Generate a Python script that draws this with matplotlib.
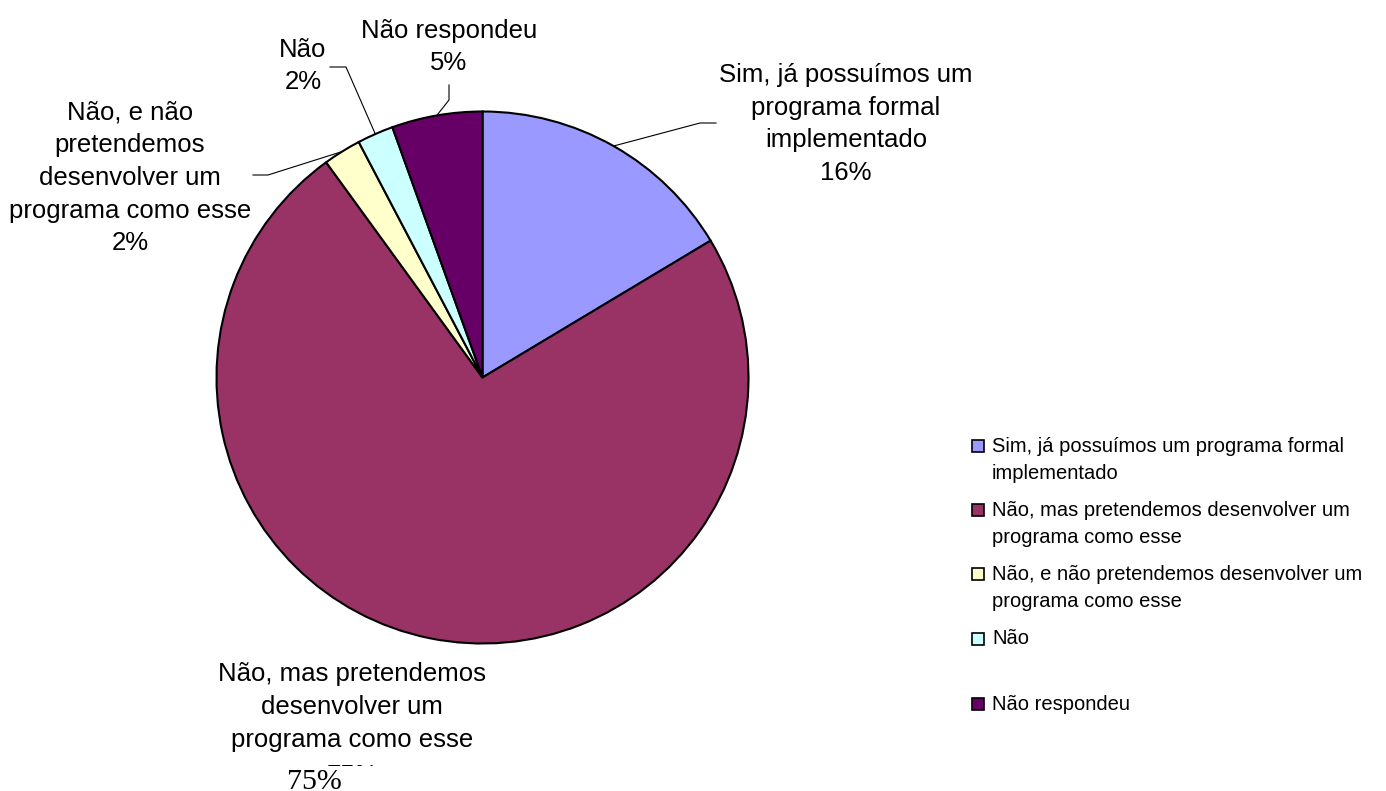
import numpy as np
import matplotlib
matplotlib.use('Agg')
import matplotlib.pyplot as plt
from matplotlib.patches import Rectangle

# survey answers (share of respondents, %)
categorias = ['Sim, já possuímos um programa formal implementado',
              'Não, mas pretendemos desenvolver um programa como esse',
              'Não, e não pretendemos desenvolver um programa como esse',
              'Não',
              'Não respondeu']
valores = [16.4, 73.6, 2.3, 2.2, 5.5]
rotulos_pct = ['16%', '75%', '2%', '2%', '5%']
rotulos_fatia = ['Sim, já possuímos um\nprograma formal\nimplementado',
                 'Não, mas pretendemos\ndesenvolver um\nprograma como esse',
                 'Não, e não\npretendemos\ndesenvolver um\nprograma como esse',
                 'Não',
                 'Não respondeu']
rotulos_legenda = ['Sim, já possuímos um programa formal\nimplementado',
                   'Não, mas pretendemos desenvolver um\nprograma como esse',
                   'Não, e não pretendemos desenvolver um\nprograma como esse',
                   'Não',
                   'Não respondeu']
cores = ['#9999FF', '#993366', '#FFFFCC', '#CCFFFF', '#660066']

W, H = 1386, 791
SANS = 'Liberation Sans'

def py(y):
    return H - y

fig = plt.figure(figsize=(W / 100, H / 100), dpi=100)
ax = fig.add_axes([0, 0, 1, 1])

cx, cy, r = 482.5, py(377.5), 266
wedges, _ = ax.pie(valores, colors=cores, startangle=90, counterclock=False,
                   center=(cx, cy), radius=r,
                   wedgeprops=dict(edgecolor='black', linewidth=1.5))
ax.set_xlim(0, W)
ax.set_ylim(0, H)
ax.set_aspect('equal')
ax.axis('off')

# label positions (pixel coords, top-left origin) and leader elbows
pos_texto = [(846, 124), None, (130, 178), (303, 66), (449, 47)]
cotovelos = [[(700, 123), (716, 123)],
             None,
             [(268, 175), (253, 175)],
             [(346, 67), (330, 67)],
             [(449, 100), (449, 85)]]

fs = 18.5
ls = 1.46
for i, w in enumerate(wedges):
    if pos_texto[i] is None:
        continue
    x, y = pos_texto[i]
    ax.text(x, py(y), rotulos_fatia[i] + '\n' + rotulos_pct[i], ha='center', va='center',
            fontsize=fs, family=SANS, linespacing=ls)
    ang = np.deg2rad((w.theta1 + w.theta2) / 2)
    xs = [cx + r * np.cos(ang)] + [p[0] for p in cotovelos[i]]
    ys = [cy + r * np.sin(ang)] + [py(p[1]) for p in cotovelos[i]]
    ax.plot(xs, ys, color='black', lw=0.8)

# bottom label for the big slice (its percentage gets clipped in the original)
ax.text(352, py(707), rotulos_fatia[1], ha='center', va='center',
        fontsize=fs, family=SANS, linespacing=ls)
ax.text(352, py(783), rotulos_pct[1], ha='center', va='baseline',
        fontsize=fs, family=SANS, zorder=5)
ax.add_patch(Rectangle((320, 0), 90, py(765.5), facecolor='white', edgecolor='none', zorder=6))
ax.text(314, py(789), rotulos_pct[1], ha='center', va='baseline',
        fontsize=21.5, family='Liberation Serif', zorder=7)

# legend drawn by hand
leg_y = [446, 510, 574, 639, 704]
for i in range(len(categorias)):
    ax.add_patch(Rectangle((972, py(leg_y[i]) - 6), 12, 12, facecolor=cores[i],
                           edgecolor='black', lw=1.2))
    nl = rotulos_legenda[i].count('\n')
    ax.text(992, py(leg_y[i] + nl * 14), rotulos_legenda[i], ha='left', va='center',
            fontsize=14.5, family=SANS, linespacing=1.56)

fig.savefig('out.png', dpi=100)
